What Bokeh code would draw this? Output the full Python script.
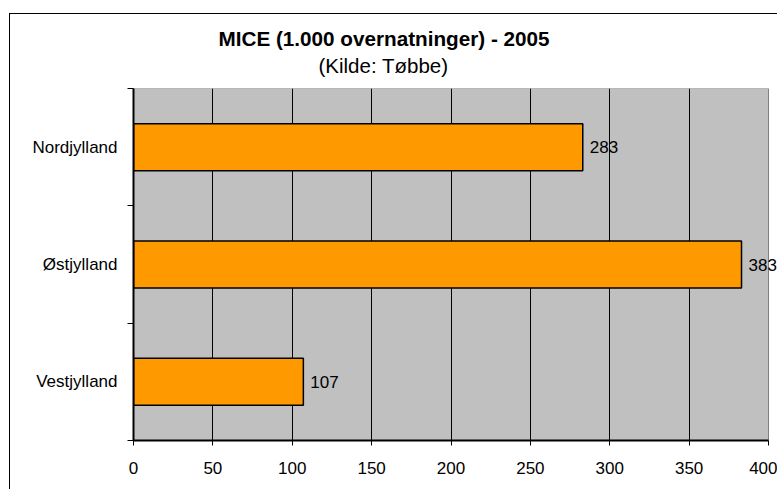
from bokeh.plotting import figure
from bokeh.models import Range1d, FixedTicker, ColumnDataSource, LabelSet, Title
from bokeh.core.properties import value
from bokeh.embed import file_html
from bokeh.resources import INLINE

# data
categories = ["Nordjylland", "Østjylland", "Vestjylland"]
values = [283, 383, 107]
x_ticks = [0, 50, 100, 150, 200, 250, 300, 350, 400]
title_text = "MICE (1.000 overnatninger) - 2005"
subtitle_text = "(Kilde: Tøbbe)"

FONT = "Liberation Sans"
n = len(categories)
ypos = [n - i - 0.5 for i in range(n)]

src = ColumnDataSource(dict(cat=categories, val=values, y=ypos,
                            lab=[str(v) for v in values]))

# layout (canvas starts at page (10, 14) because of the chart-box border)
W, H = 768, 476
BL, BR, BT, BB = 123, 0, 74, 50
PLOT_W = 635                      # width in px of the grey plot area
FRAME_W = W - BL - BR             # frame runs on to the canvas edge
x_end = x_ticks[-1] * FRAME_W / PLOT_W

p = figure(width=W, height=H, output_backend="svg", toolbar_location=None,
           x_range=Range1d(x_ticks[0], x_end), y_range=Range1d(0, n),
           min_border_left=BL, min_border_right=BR, min_border_top=BT,
           min_border_bottom=BB, title=None)
p.styles = {"margin-left": "9px", "margin-top": "13px",
            "border-left": "1px solid black", "border-top": "1px solid black"}

p.background_fill_color = "white"
p.border_fill_color = "white"
p.outline_line_color = None

# grey plot area
p.quad(left=x_ticks[0], right=x_ticks[-1], bottom=0, top=n,
       fill_color="#C0C0C0", line_color="#808080", line_width=1, level="image")

p.hbar(y="y", right="val", left=0, height=0.4, source=src,
       fill_color="#FF9900", line_color="black", line_width=1.5)

p.add_layout(LabelSet(x="val", y="y", text="lab", source=src, x_offset=7,
                      text_baseline="middle", text_align="left",
                      text_font=value(FONT), text_font_size=value("17px"),
                      text_color="black"))

# x axis
p.xaxis.ticker = FixedTicker(ticks=x_ticks)
p.xaxis.bounds = (x_ticks[0], x_ticks[-1])
p.xaxis.axis_line_color = "black"
p.xaxis.axis_line_width = 2
p.xaxis.major_tick_out = 5
p.xaxis.major_tick_in = 0
p.xaxis.minor_tick_out = 0
p.xaxis.major_tick_line_color = "black"
p.xaxis.major_label_text_font = FONT
p.xaxis.major_label_text_font_size = "17px"
p.xaxis.major_label_text_color = "black"
p.xaxis.major_label_standoff = 16

# y axis
p.yaxis.ticker = FixedTicker(ticks=ypos, minor_ticks=list(range(n + 1)))
p.yaxis.major_label_overrides = {y: c for y, c in zip(ypos, categories)}
p.yaxis.axis_line_color = "black"
p.yaxis.axis_line_width = 2
p.yaxis.major_tick_out = 0
p.yaxis.major_tick_in = 0
p.yaxis.minor_tick_out = 6
p.yaxis.minor_tick_in = 0
p.yaxis.minor_tick_line_color = "black"
p.yaxis.major_label_text_font = FONT
p.yaxis.major_label_text_font_size = "17px"
p.yaxis.major_label_text_color = "black"
p.yaxis.major_label_standoff = 10

p.xgrid.ticker = FixedTicker(ticks=x_ticks[1:-1])
p.xgrid.grid_line_color = "black"
p.xgrid.grid_line_width = 1
p.ygrid.grid_line_color = None

# titles: subtitle nearest the frame, main title above it (left-aligned with offsets)
FRAME_LEFT_PAGE = 133
p.add_layout(Title(text=subtitle_text, align="left", offset=318 - FRAME_LEFT_PAGE,
                   text_font=FONT, text_font_size="20.5px", text_font_style="normal",
                   text_color="black", standoff=23), "above")
p.add_layout(Title(text=title_text, align="left", offset=218 - FRAME_LEFT_PAGE,
                   text_font=FONT, text_font_size="20.7px", text_font_style="bold",
                   text_color="black", standoff=-18), "above")

open("out.html", "w").write(file_html(p, INLINE))
